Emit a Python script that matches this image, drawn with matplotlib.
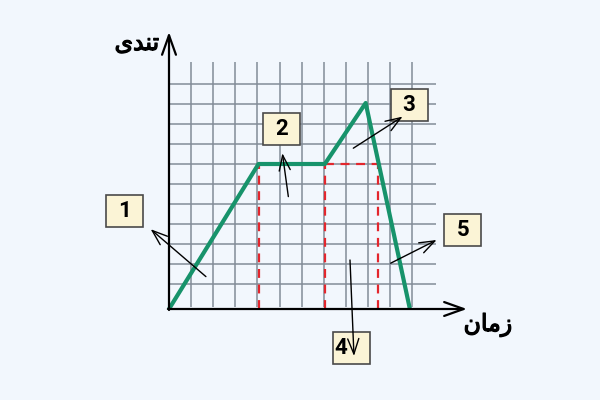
import numpy as np
import matplotlib
matplotlib.use("Agg")
import matplotlib.pyplot as plt
import matplotlib.patheffects as pe
from matplotlib.patches import Rectangle

# speed-time profile (grid units: 1 = one grid cell)
time_pts = [0.0, 4.05, 7.05, 8.9, 10.9]
speed_pts = [0.0, 7.25, 7.25, 10.3, 0.0]

# dashed helper lines
dash_x = [4.05, 7.05, 9.45]
dash_top = 7.25

grid_x = np.arange(1, 12)
grid_y = np.arange(1.25, 11.5, 1.0)

# labels (shaped Persian, visual order)
y_label = "\uFEEF\uFEAA\uFEE8\uFE97"   # تندی
x_label = "\uFEE5\uFE8E\uFEE3\uFEAF"   # زمان

box_labels = ["1", "2", "3", "4", "5"]
box_xy = [(-2.01, 4.9), (5.11, 9.0), (10.86, 10.2), (8.28, -1.95), (13.3, 3.95)]
label_dx = [0, 0, 0, -0.5, 0]
arrow_from = [(1.67, 1.62), (5.40, 5.62), (8.34, 8.04), (8.19, 2.45), (10.03, 2.29)]
arrow_to = [(-0.83, 3.99), (5.13, 7.79), (10.57, 9.62), (8.37, -2.35), (12.11, 3.45)]

BG = "#f2f7fd"
GRID = "#838c98"
GREEN = "#17936b"
RED = "#e3262d"

fig = plt.figure(figsize=(6, 4), dpi=100, facecolor=BG)
ax = fig.add_axes([0, 0, 1, 1])
ax.set_facecolor(BG)
ax.set_xlim(-169 / 22.1, (600 - 169) / 22.1)
ax.set_ylim(-(400 - 309) / 20, 309 / 20)
ax.axis("off")

# grid
ax.vlines(grid_x, 0.1, 12.35, color=GRID, lw=1.1, zorder=1)
ax.hlines(grid_y, 0, 12.1, color=GRID, lw=1.1, zorder=1)

# dashed red lines
ax.vlines(dash_x, 0, dash_top, color=RED, lw=1.6, linestyles=(0, (4, 3)), zorder=2)
ax.hlines(dash_top, dash_x[1], dash_x[2], color=RED, lw=1.6, linestyles=(0, (4, 3)), zorder=2)

# main curve
ax.plot(time_pts, speed_pts, color=GREEN, lw=3, solid_capstyle="butt", zorder=3)

# axes with open arrow heads
ax_arrow = dict(arrowstyle="->,head_length=14,head_width=5", lw=1.6, color="black",
                mutation_scale=1, shrinkA=0, shrinkB=0)
ax.annotate("", xy=(0, 13.85), xytext=(0, -0.05), arrowprops=ax_arrow, zorder=4)
ax.annotate("", xy=(13.48, 0), xytext=(-0.05, 0), arrowprops=ax_arrow, zorder=4)

thick = [pe.withStroke(linewidth=0.9, foreground="black")]
ax.text(-1.45, 13.3, y_label, fontsize=17, ha="center", va="center",
        family="DejaVu Sans", path_effects=thick)
ax.text(14.43, -0.8, x_label, fontsize=17, ha="center", va="center",
        family="DejaVu Sans", path_effects=thick)

# numbered boxes + pointer arrows
small_arrow = dict(arrowstyle="->,head_length=11,head_width=4", lw=1.0, color="black",
                   mutation_scale=1, shrinkA=0, shrinkB=0)
bw, bh = 37 / 22.1, 32 / 20
for lab, (bx, by), dx, p0, p1 in zip(box_labels, box_xy, label_dx, arrow_from, arrow_to):
    ax.add_patch(Rectangle((bx - bw / 2, by - bh / 2), bw, bh, facecolor="#fbf4d6",
                           edgecolor="#4a4a4a", lw=1.2, zorder=5))
    ax.text(bx + dx, by, lab, fontsize=16, fontweight="bold", ha="center", va="center",
            family="Roboto", zorder=6)
    ax.annotate("", xy=p1, xytext=p0, arrowprops=small_arrow, zorder=7)

fig.savefig("out.png", dpi=100, facecolor=BG)
